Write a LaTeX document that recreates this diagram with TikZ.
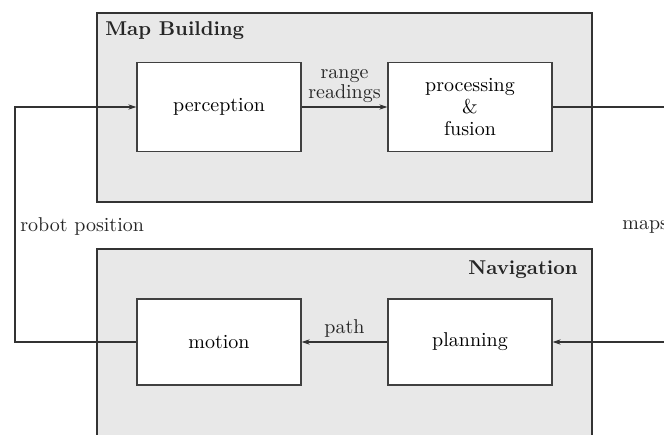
\documentclass[tikz,border=0pt]{standalone}
\usetikzlibrary{arrows.meta}
\begin{document}
\begin{tikzpicture}[x=0.5pt,y=-0.5pt,
  outer/.style={draw=black!80,line width=0.9pt,fill=black!9},
  block/.style={draw=black!75,line width=0.6pt,fill=white,minimum width=82pt,minimum height=44.5pt,inner sep=0pt,align=center},
  conn/.style={draw=black!80,line width=0.6pt},
  arr/.style={conn,-{Stealth[length=4pt,width=2.6pt]}},
  lbl/.style={inner sep=1pt,align=center,text=black!85}]
\useasboundingbox (0,0) rectangle (664,434);
\clip (0,0) rectangle (664,434);
% outer boxes
\path[outer] (97,13) rectangle (592,202);
\path[outer] (97,249) rectangle (592,460);
\node[lbl,anchor=west,font=\bfseries] (mbt) at (103,31) {Map Building};
\node[lbl,anchor=east,font=\bfseries] (navt) at (580,270) {Navigation};
% blocks
\node[block] (perc) at (219,107) {perception};
\node[block] (proc) at (470,107) {processing\\[-1pt]\&\\[-1pt]fusion};
\node[block,minimum height=43pt] (mot) at (219,342) {motion};
\node[block,minimum height=43pt] (plan) at (470,342) {planning};
% coordinates
\coordinate (fbl) at (15,342);
\coordinate (fbt) at (15,107);
\coordinate (outr) at (670,107);
\coordinate (inr) at (670,342);
% connectors
\draw[arr] (perc) -- (proc) node[lbl,midway,above=0pt,yshift=1pt] (rr) {range\\[-2pt]readings};
\draw[arr] (mot.west) -- (fbl) -- (fbt) -- (perc.west);
\draw[conn] (proc.east) -- (outr);
\draw[arr] (inr) -- (plan.east);
\draw[arr] (plan) -- (mot) node[lbl,midway,above=1pt] (pth) {path};
% labels
\node[lbl,anchor=west] (rp) at (18,226) {robot position};
\node[lbl,anchor=west] (mp) at (620,227) {maps};
\end{tikzpicture}
\end{document}
